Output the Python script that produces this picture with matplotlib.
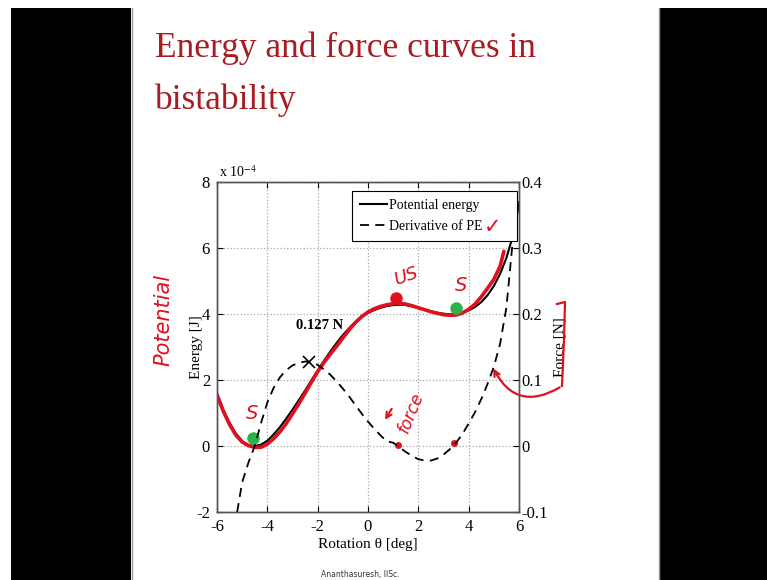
import matplotlib.pyplot as plt
from matplotlib.lines import Line2D
from matplotlib.patches import Rectangle

plt.rcParams['font.family'] = ['Liberation Serif', 'DejaVu Serif']
plt.rcParams['mathtext.fontset'] = 'stix'
plt.rcParams['axes.unicode_minus'] = False

# rotation (deg) and potential energy (x 1e-4 J)
theta = [-6.00, -5.75, -5.50, -5.25, -5.00, -4.75, -4.50, -4.25, -4.00, -3.75,
         -3.50, -3.25, -3.00, -2.75, -2.50, -2.25, -2.00, -1.75, -1.50, -1.25,
         -1.00, -0.75, -0.50, -0.25, 0.00, 0.25, 0.50, 0.75, 1.00, 1.25,
         1.50, 1.75, 2.00, 2.25, 2.50, 2.75, 3.00, 3.25, 3.50, 3.75,
         4.00, 4.25, 4.50, 4.75, 5.00, 5.25, 5.50, 5.75, 6.00]
energy = [1.60, 1.10, 0.70, 0.38, 0.15, 0.03, 0.00, 0.04, 0.16, 0.35,
          0.57, 0.83, 1.10, 1.39, 1.68, 1.99, 2.29, 2.58, 2.86, 3.12,
          3.36, 3.57, 3.76, 3.91, 4.03, 4.12, 4.19, 4.24, 4.27, 4.28,
          4.27, 4.23, 4.18, 4.13, 4.08, 4.04, 4.01, 3.99, 4.00, 4.04,
          4.11, 4.21, 4.36, 4.57, 4.85, 5.22, 5.70, 6.35, 7.30]

# derivative of PE (force, N)
theta_f = [-5.20, -5.00, -4.75, -4.50, -4.25, -4.00, -3.75, -3.50, -3.25, -3.00,
           -2.75, -2.50, -2.25, -2.00, -1.75, -1.50, -1.25, -1.00, -0.75, -0.50,
           -0.25, 0.00, 0.25, 0.50, 0.75, 1.00, 1.25, 1.50, 1.75, 2.00,
           2.25, 2.50, 2.75, 3.00, 3.25, 3.50, 3.75, 4.00, 4.25, 4.50,
           4.75, 5.00, 5.25, 5.50, 5.75, 6.00]
force = [-0.100, -0.055, -0.025, 0.000, 0.035, 0.066, 0.088, 0.104, 0.115, 0.122,
         0.126, 0.128, 0.127, 0.123, 0.116, 0.108, 0.098, 0.087, 0.075, 0.062,
         0.049, 0.037, 0.026, 0.016, 0.007, 0.005, -0.002, -0.009, -0.015, -0.020,
         -0.022, -0.022, -0.019, -0.013, -0.005, 0.005, 0.018, 0.034, 0.051, 0.071,
         0.094, 0.120, 0.155, 0.210, 0.310, 0.380]

# hand-drawn red trace over the energy curve
theta_hand = [-6.00, -5.75, -5.50, -5.25, -5.00, -4.75, -4.50, -4.25, -4.00, -3.75,
              -3.50, -3.25, -3.00, -2.75, -2.50, -2.25, -2.00, -1.75, -1.50, -1.25,
              -1.00, -0.75, -0.50, -0.25, 0.00, 0.25, 0.50, 0.75, 1.00, 1.25,
              1.50, 1.75, 2.00, 2.25, 2.50, 2.75, 3.00, 3.25, 3.50, 3.75,
              4.00, 4.25, 4.50, 4.75, 5.00, 5.25, 5.40]
energy_hand = [1.55, 1.05, 0.65, 0.33, 0.12, 0.01, -0.04, -0.04, 0.06, 0.22,
               0.43, 0.68, 0.97, 1.28, 1.60, 1.93, 2.25, 2.53, 2.78, 3.02,
               3.27, 3.52, 3.74, 3.92, 4.06, 4.16, 4.23, 4.28, 4.31, 4.32,
               4.30, 4.25, 4.19, 4.13, 4.07, 4.02, 3.98, 3.96, 3.97, 4.03,
               4.14, 4.30, 4.52, 4.78, 5.05, 5.45, 5.90]

# marked points
stable_x = [-4.55, 3.5]
stable_e = [0.25, 4.18]
unstable_x = [1.13]
unstable_e = [4.48]
zero_x = [1.19, 3.42]
zero_e = [0.02, 0.08]
peak_x = -2.35
peak_f = 0.127

xticks = [-6, -4, -2, 0, 2, 4, 6]
yticks_e = [-2, 0, 2, 4, 6, 8]
yticks_f = [-0.1, 0, 0.1, 0.2, 0.3, 0.4]
yticklabels_f = ['-0.1', '0', '0.1', '0.2', '0.3', '0.4']

red = '#e0101e'
green = '#2bb34a'
title_red = '#a81c22'

W, H = 767, 580
fig = plt.figure(figsize=(W / 100, H / 100), dpi=100)
fig.patch.set_facecolor('white')

# black side bands of the video frame
fig.add_artist(Rectangle((11 / W, 0), 120 / W, 572 / H, transform=fig.transFigure,
                         facecolor='black', edgecolor='none'))
fig.add_artist(Rectangle((659 / W, 0), 108 / W, 572 / H, transform=fig.transFigure,
                         facecolor='black', edgecolor='none'))
fig.add_artist(Line2D([131.5 / W, 131.5 / W], [0, 572 / H], transform=fig.transFigure,
                      color='#9a9a9a', lw=1))
fig.add_artist(Line2D([658.5 / W, 658.5 / W], [0, 572 / H], transform=fig.transFigure,
                      color='#9a9a9a', lw=1))

# slide title
fig.text(155 / W, 1 - 57 / H, 'Energy and force curves in', fontsize=25.5,
         color=title_red, va='baseline', ha='left')
fig.text(155 / W, 1 - 109 / H, 'bistability', fontsize=25.5,
         color=title_red, va='baseline', ha='left')

ax = fig.add_axes([217 / W, 68 / H, 302 / W, 330 / H])
ax2 = ax.twinx()

l1, = ax.plot(theta, energy, color='black', lw=1.5, label='Potential energy')
ax.plot(theta_hand, energy_hand, color=red, lw=2.6, solid_capstyle='round')
l2, = ax2.plot(theta_f, force, color='black', lw=1.3, ls=(0, (5, 3.5)),
               label='Derivative of PE')
ax2.plot([peak_x], [peak_f], marker='x', color='black', ms=8, mew=1.2)

ax.plot(stable_x, stable_e, 'o', color=green, ms=9, mec='none')
ax.plot(unstable_x, unstable_e, 'o', color=red, ms=9, mec='none')
ax.plot(zero_x, zero_e, 'o', color=red, ms=5, mec='none')

ax.set_xlim(-6, 6)
ax.set_ylim(-2, 8)
ax2.set_ylim(-0.1, 0.4)
ax.set_xticks(xticks)
ax.set_xticklabels([str(t) for t in xticks])
ax.set_yticks(yticks_e)
ax.set_yticklabels([str(t) for t in yticks_e])
ax2.set_yticks(yticks_f)
ax2.set_yticklabels(yticklabels_f)

ax.grid(True, linestyle=':', color='#a8a8a8', lw=0.9)
ax.tick_params(direction='in', length=4, labelsize=12, top=True, pad=5)
ax2.tick_params(direction='in', length=4, labelsize=12, pad=2)
for a in (ax, ax2):
    for s in a.spines.values():
        s.set_color('#555555')
        s.set_linewidth(1.0)

ax.set_xlabel('Rotation \u03b8 [deg]', fontsize=11, labelpad=2)
ax.set_ylabel('Energy [J]', fontsize=11, labelpad=-5)
ax2.set_ylabel('Force [N]', fontsize=11, labelpad=4)
ax.text(0.005, 1.005, 'x 10$^{-4}$', transform=ax.transAxes, fontsize=10,
        va='bottom', ha='left')

leg = ax2.legend(handles=[l1, l2], loc='upper left', mode='expand',
                 bbox_to_anchor=(0.447, 0.0, 0.548, 0.973), borderaxespad=0,
                 fontsize=10, frameon=True, fancybox=False, edgecolor='black',
                 framealpha=1, handlelength=2.0, handletextpad=0.1,
                 borderpad=0.55, labelspacing=0.6)
leg.get_frame().set_linewidth(0.8)

ax.text(-2.85, 3.65, '0.127 N', fontsize=10.5, fontweight='bold', va='center')

# hand-written notes
hand = dict(color=red, family=['DejaVu Sans'], style='italic')
ax.text(-4.62, 0.98, 'S', fontsize=14, ha='center', va='center', **hand)
ax.text(3.7, 4.85, 'S', fontsize=14, ha='center', va='center', **hand)
ax.text(1.55, 5.15, 'US', fontsize=13, ha='center', va='center', rotation=20, **hand)
ax.text(1.7, 1.0, 'force', fontsize=12, ha='center', va='center', rotation=68, **hand)
ax.annotate('', xy=(0.62, 0.72), xytext=(1.0, 1.2),
            arrowprops=dict(arrowstyle='->', color=red, lw=1.5))
fig.text(163 / W, 1 - 320 / H, 'Potential', fontsize=15, rotation=90,
         ha='center', va='center', **hand)
fig.text(493 / W, 1 - 227 / H, '\u2713', fontsize=15, color=red,
         family=['DejaVu Sans'], ha='center', va='center')
fig.add_artist(Line2D([557 / W, 565 / W, 564 / W, 562 / W],
                      [1 - 304 / H, 1 - 302 / H, 1 - 340 / H, 1 - 386 / H],
                      transform=fig.transFigure, color=red, lw=1.6))
ax.annotate('', xy=(492 / W, 1 - 366 / H), xycoords='figure fraction',
            xytext=(562 / W, 1 - 386 / H), textcoords='figure fraction',
            arrowprops=dict(arrowstyle='->', color=red, lw=1.6,
                            connectionstyle='arc3,rad=-0.55'))

fig.text(360 / W, 1 - 574 / H, 'Ananthasuresh, IISc.', fontsize=5.5,
         ha='center', va='center', family=['DejaVu Sans'], color='#333333')

fig.savefig('out.png', dpi=100)
